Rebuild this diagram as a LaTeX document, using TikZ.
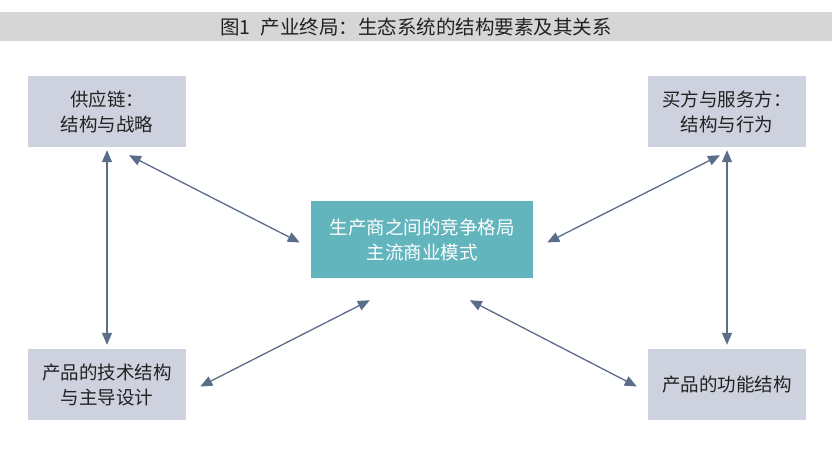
\documentclass[tikz,border=0pt]{standalone}
\usepackage{fontspec}
\usepackage{xcolor}
\usepackage{tikz}
\usetikzlibrary{arrows.meta,positioning,calc}
\newfontfamily\cjk{Noto Sans CJK SC}
\definecolor{boxgrey}{HTML}{CDD2DE}
\definecolor{tealbox}{HTML}{62B4BD}
\definecolor{linkblue}{HTML}{5B6E88}
\definecolor{bargrey}{HTML}{D6D6D6}
\definecolor{textdark}{HTML}{222222}

\begin{document}
\begin{tikzpicture}[x=1pt, y=-1pt,
  ebox/.style={fill=boxgrey, minimum width=158pt, minimum height=71pt,
               align=center, font=\cjk\fontsize{18.5}{25}\selectfont, text=textdark, inner sep=0pt},
  cbox/.style={fill=tealbox, minimum width=222pt, minimum height=77pt,
               align=center, font=\cjk\fontsize{18.5}{25}\selectfont, text=white, inner sep=0pt},
  link/.style={{Triangle[length=12pt,width=10pt]}-{Triangle[length=12pt,width=10pt]}, draw=linkblue,
               fill=linkblue, line width=1.3pt}
]
\useasboundingbox[fill=white] (0,0) rectangle (832,464);
\fill[bargrey] (0,12) rectangle (832,41);
\node[font=\cjk\fontsize{19.5}{20}\selectfont, text=textdark] (title) at (416,27)
  {图1\hspace{0.5em}产业终局：生态系统的结构要素及其关系};

\node[cbox] (C) at (422,239.5) {生产商之间的竞争格局\\主流商业模式};
\node[ebox] (TL) at (107,111.5) {供应链：\\结构与战略};
\node[ebox] (TR) at (727,111.5) {买方与服务方：\\结构与行为};
\node[ebox] (BL) at (107,384.5) {产品的技术结构\\与主导设计};
\node[ebox] (BR) at (727,384.5) {产品的功能结构};

\draw[link, shorten <=3pt, shorten >=4pt] (TL) -- (BL);
\draw[link, shorten <=3pt, shorten >=4pt] (TR) -- (BR);
\draw[link] ($(TL.south)+(22,8)$) -- ($(C.west)+(-11,3)$);
\draw[link] ($(C.east)+(14,3)$) -- ($(TR.south)+(-7,8)$);
\draw[link] ($(BL.east)+(14,2)$) -- ($(C.south west)+(59,22)$);
\draw[link] ($(C.south west)+(159,22)$) -- ($(BR.west)+(-11,2)$);
\end{tikzpicture}
\end{document}
